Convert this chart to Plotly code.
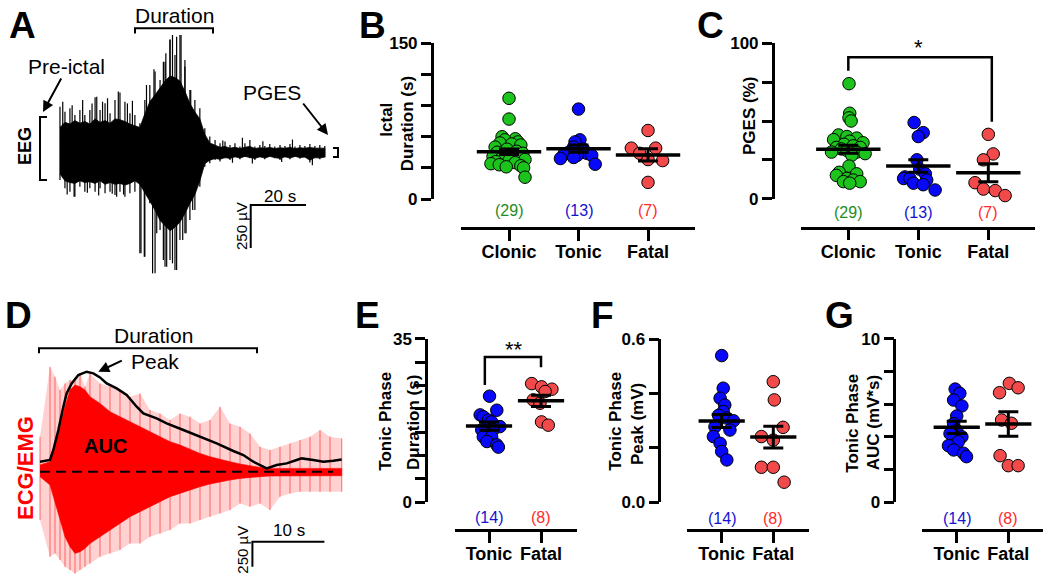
import plotly.graph_objects as go

W, H = 1050, 581
FONT = "Liberation Sans, Arial, Helvetica, sans-serif"

# ---------------- Panel A: EEG (time s, amplitude µV) ----------------
eeg_t = [0, 1.8, 3.6, 5.4, 7.2, 9.0, 10.8, 12.7, 14.5, 16.3,
         18.1, 19.9, 21.7, 23.5, 25.3, 27.1, 28.9, 30.7, 32.5, 34.4,
         36.2, 38.0, 39.8, 41.6, 43.4, 45.2, 47.0, 48.8, 50.6, 52.4,
         54.2, 56.1, 57.9, 59.7, 61.5, 63.3, 65.1, 66.9, 68.7, 70.5,
         72.3, 74.1, 75.9, 77.7, 79.6, 81.4, 83.2, 85.0, 86.8, 88.6,
         90.4, 92.2, 94.0, 95.8]
# outer excursions (spike tips) at each sample
eeg_hi = [271, 242, 262, 223, 252, 223, 252, 326, 252, 291,
          233, 310, 353, 300, 233, 223, 174, 310, 397, 475,
          426, 533, 659, 572, 688, 504, 368, 310, 262, 145,
          97, 78, 58, 68, 48, 58, 39, 58, 78, 39,
          48, 43, 54, 39, 48, 43, 54, 39, 48, 43,
          54, 43, 48, 43]
eeg_lo = [-155, -203, -223, -252, -194, -223, -203, -223, -203, -233,
          -223, -242, -223, -252, -233, -223, -581, -601, -291, -698,
          -446, -659, -620, -678, -504, -465, -388, -329, -194, -78,
          -58, -39, -48, -29, -39, -23, -35, -19, -29, -39,
          -23, -35, -19, -29, -39, -23, -35, -19, -31, -23,
          -54, -29, -35, -23]
# dense (solid-looking) part of the trace
eeg_core_hi = [150, 180, 170, 190, 175, 185, 170, 200, 180, 190,
               175, 200, 195, 185, 170, 160, 150, 230, 300, 340,
               380, 420, 450, 440, 420, 360, 290, 240, 200, 110,
               60, 45, 35, 40, 30, 35, 28, 35, 40, 28,
               32, 30, 34, 28, 32, 30, 34, 28, 32, 30,
               34, 30, 32, 30]
eeg_core_lo = [-120, -160, -170, -175, -160, -170, -165, -175, -160, -180,
               -170, -180, -175, -185, -175, -160, -180, -230, -280, -330,
               -390, -420, -450, -430, -400, -350, -290, -240, -160, -60,
               -40, -30, -35, -25, -30, -20, -28, -18, -25, -30,
               -20, -28, -18, -25, -30, -20, -28, -18, -25, -22,
               -40, -25, -28, -22]
eeg_spike_t = [1.0, 4.4, 8.2, 11.6, 13.3, 15.4, 17.2, 21.1, 24.4, 26.2, 31.3, 34.0, 37.4, 38.3,
               39.8, 40.7, 42.2, 43.8, 45.2, 47.3, 58.9, 66.0, 73.4, 84.1,
               2.6, 5.1, 9.9, 14.0, 18.9, 20.5, 23.0, 29.3, 30.5, 33.5, 35.0, 37.4, 38.6, 40.7,
               42.2, 44.4, 45.6, 48.0, 62.4, 69.6, 80.2, 91.3]
eeg_spike_v = [300, 280, 310, 290, 329, 300, 320, 359, 290, 305, 397, 488, 533, 581,
               663, 688, 678, 688, 543, 368, 75, 90, 70, 80,
               -240, -252, -230, -245, -235, -252, -240, -581, -601, -698, -465, -620, -659, -640,
               -678, -504, -465, -330, -55, -60, -50, -70]
eeg_bar_t0, eeg_bar_v0 = 69.0, -550
eeg_bar_sec, eeg_bar_uv = 20, 250

# ---------------- Panel D: ECG/EMG (time s, amplitude µV) ----------------
emg_t = [0, 1.39, 2.08, 2.78, 3.47, 4.17, 4.86, 5.56, 6.25, 6.94,
         8.33, 9.72, 11.11, 12.50, 13.89, 15.28, 16.67, 18.06, 19.44, 20.83,
         22.22, 23.61, 25.0, 26.39, 27.78, 29.17, 30.56, 31.94, 33.33, 34.72,
         36.11, 37.50, 38.89, 40.28, 41.90]
emg_core_hi = [67, 100, 250, 450, 650, 817, 867, 850, 817, 750,
               683, 600, 550, 500, 450, 400, 350, 300, 267, 223,
               183, 150, 123, 100, 77, 57, 43, 33, 33, 33,
               33, 33, 33, 33, 33]
emg_core_lo = [-50, -133, -317, -483, -650, -750, -817, -800, -767, -717,
               -650, -583, -517, -450, -400, -350, -300, -250, -217, -183,
               -150, -123, -100, -83, -67, -57, -50, -43, -40, -40,
               -40, -40, -40, -40, -40]
emg_spk_hi = [350, 1050, 950, 817, 883, 917, 917, 983, 850, 983,
              883, 850, 817, 750, 783, 617, 583, 517, 583, 550,
              483, 517, 650, 483, 450, 383, 250, 217, 250, 283,
              317, 350, 417, 350, 333]
emg_spk_lo = [-483, -850, -817, -883, -950, -983, -1017, -983, -950, -917,
              -850, -817, -783, -717, -717, -650, -617, -583, -517, -517,
              -483, -450, -417, -383, -317, -350, -317, -383, -250, -217,
              -200, -200, -200, -200, -200]
auc_t = [0, 1.39, 1.85, 2.55, 3.24, 3.70, 4.40, 5.32, 6.48, 7.41,
         8.33, 9.26, 10.65, 12.04, 13.43, 14.35, 16.20, 17.59, 19.91, 22.22,
         24.54, 26.85, 28.24, 29.63, 31.02, 31.48, 32.87, 34.26, 35.65, 36.34,
         37.96, 39.35, 40.74, 41.90]
auc_v = [100, 117, 217, 417, 650, 783, 883, 967, 1000, 983,
         943, 883, 833, 767, 650, 583, 533, 483, 417, 350,
         283, 207, 167, 100, 50, 33, 67, 83, 117, 133,
         117, 100, 110, 123]
emg_dash_end = 40.7
emg_bar_t0, emg_bar_v0 = 29.5, -950
emg_bar_sec, emg_bar_uv = 10, 250

# ---------------- Panel B: Ictal duration (s) ----------------
B_cats = ["Clonic", "Tonic", "Fatal"]
B_clonic = [97, 77, 60, 58, 57, 55, 54, 53, 52, 50, 48, 46, 45, 44, 43, 42, 41, 40, 39, 38,
            37, 36, 35, 34, 33, 32, 31, 30, 21]
B_clonic_jit = [0, 0, -0.10, 0.09, -0.06, 0.13, -0.13, 0.04, 0.17, -0.20, -0.03, 0.11, -0.17, 0.20,
                -0.07, 0.06, -0.23, 0.14, -0.11, 0.23, 0, -0.19, 0.09, -0.26, -0.14, 0.17, -0.04, 0.21, 0.23]
B_tonic = [86.6, 57, 55, 50, 48, 45, 44, 43, 42, 42, 40, 39, 33.5]
B_tonic_jit = [0, 0.02, -0.05, -0.07, 0.07, -0.14, 0.12, -0.21, 0.19, -0.02, -0.07, -0.26, 0.24]
B_fatal = [66, 49, 49, 44, 38, 37, 16]
B_fatal_jit = [0, 0.11, -0.24, -0.12, 0, 0.21, 0]
B_mean = [45.5, 48.5, 42.5]
B_sem = [2.6, 3.5, 6.0]
B_n = ["(29)", "(13)", "(7)"]

# ---------------- Panel C: PGES (%) ----------------
C_cats = ["Clonic", "Tonic", "Fatal"]
C_clonic = [74, 55, 52, 50, 41, 40, 39, 38, 37, 36, 35, 34, 33, 33, 32, 31, 30, 30, 29, 28,
            21, 17, 16, 15, 13, 12, 11, 11, 10]
C_clonic_jit = [0.01, 0.02, 0.01, 0.04, -0.14, -0.02, 0.12, -0.21, 0.02, 0.21, -0.06, 0.07, -0.17, 0.17,
                -0.10, -0.02, 0.12, -0.24, 0.24, 0.05, 0.01, -0.13, 0.12, -0.17, -0.02, 0.07, -0.07, 0.17, 0.02]
C_tonic = [49, 42.5, 40, 25, 19, 16, 14, 13, 13, 12, 10, 9, 5.6]
C_tonic_jit = [-0.06, 0.07, 0, -0.02, 0.02, 0.10, -0.19, -0.21, -0.12, 0.12, -0.07, 0.07, 0.24]
C_fatal = [41.4, 28.8, 25, 10.3, 6.2, 5.2, 2]
C_fatal_jit = [0, 0.07, -0.07, -0.19, -0.07, 0.10, 0.24]
C_mean = [31.8, 21.0, 16.7]
C_sem = [2.6, 4.0, 5.8]
C_n = ["(29)", "(13)", "(7)"]

# ---------------- Panels E-G: tonic phase ----------------
T_cats = ["Tonic", "Fatal"]
E_tonic = [22.7, 19.7, 18.7, 18.3, 17.6, 17.2, 16.2, 15.5, 15.5, 14, 14, 13, 12.3, 11.8]
E_tonic_jit = [0.01, 0.15, -0.17, -0.11, -0.01, 0.05, 0.21, -0.14, 0.08, -0.11, 0.05, -0.04, 0.15, 0.18]
E_fatal = [25.4, 24.7, 24.2, 23.7, 21.9, 21.2, 17.2, 16.5]
E_fatal_jit = [-0.18, 0.01, 0.21, 0.08, -0.15, -0.02, 0.01, 0.14]
E_mean = [16.3, 21.7]
E_sem = [0.9, 1.2]

F_tonic = [0.54, 0.42, 0.383, 0.358, 0.334, 0.32, 0.31, 0.30, 0.278, 0.266, 0.242, 0.217, 0.187, 0.156]
F_tonic_jit = [0, 0.03, -0.03, 0.06, 0.03, -0.06, 0.10, 0.23, -0.13, 0.16, -0.16, -0.03, 0, 0.10]
F_fatal = [0.444, 0.377, 0.276, 0.242, 0.229, 0.129, 0.129, 0.074]
F_fatal_jit = [0, 0.02, 0.19, -0.23, 0, -0.23, 0, 0.21]
F_mean = [0.299, 0.240]
F_sem = [0.024, 0.04]

G_tonic = [6.92, 6.66, 6.25, 5.89, 5.27, 4.8, 4.4, 4.2, 4.0, 3.7, 3.46, 3.2, 3.0, 2.79]
G_tonic_jit = [-0.03, 0.06, -0.06, 0.10, 0, -0.06, 0, -0.13, 0.10, 0.03, -0.16, -0.06, 0.13, 0.19]
G_fatal = [7.27, 7.0, 6.7, 5.03, 4.83, 2.85, 2.24, 2.24]
G_fatal_jit = [0.02, 0.19, -0.17, -0.13, 0.06, -0.16, 0, 0.19]
G_mean = [4.58, 4.79]
G_sem = [0.38, 0.75]
T_n = ["(14)", "(8)"]

GREEN, BLUE, RED = "#1CC31C", "#0808FA", "#F24A4A"
GREEN_T, BLUE_T, RED_T = "#1E8C1E", "#1212D0", "#FF2A2A"


def px(x):
    return x / W


def py(y):
    return 1 - y / H


fig = go.Figure()
annotations = []
shapes = []


def text(t, x, y, size, color="black", bold=False, angle=0, xref="paper", yref="paper"):
    annotations.append(dict(
        text=t, x=px(x) if xref == "paper" else x, y=py(y) if yref == "paper" else y,
        xref=xref, yref=yref, showarrow=False, textangle=angle,
        xanchor="center", yanchor="middle",
        font=dict(family=FONT, size=size, color=color, weight="bold" if bold else "normal")))


def pline(points, width=2):
    d = "M " + " L ".join(f"{px(x):.5f},{py(y):.5f}" for x, y in points)
    shapes.append(dict(type="path", path=d, xref="paper", yref="paper",
                       line=dict(color="black", width=width)))


def vsegments(ts, lows, highs):
    xs, ys = [], []
    for t, lo, hi in zip(ts, lows, highs):
        xs += [t, t, None]
        ys += [lo, hi, None]
    return xs, ys


# ---------- Panel A traces ----------
fig.add_trace(go.Scatter(x=eeg_t + eeg_t[::-1], y=eeg_core_hi + eeg_core_lo[::-1], fill="toself",
                         fillcolor="black", mode="lines", line=dict(color="black", width=0.8),
                         xaxis="x", yaxis="y", hoverinfo="skip"))
sx, sy = vsegments(eeg_t, eeg_lo, eeg_hi)
sx2, sy2 = vsegments(eeg_spike_t, [0] * len(eeg_spike_t), eeg_spike_v)
fig.add_trace(go.Scatter(x=sx + sx2, y=sy + sy2, mode="lines", line=dict(color="black", width=1.2),
                         xaxis="x", yaxis="y", hoverinfo="skip"))
fig.add_trace(go.Scatter(x=[eeg_bar_t0, eeg_bar_t0, eeg_bar_t0 + eeg_bar_sec],
                         y=[eeg_bar_v0, eeg_bar_v0 + eeg_bar_uv, eeg_bar_v0 + eeg_bar_uv],
                         mode="lines", line=dict(color="black", width=2), xaxis="x", yaxis="y"))

# ---------- Panel D traces ----------
fig.add_trace(go.Scatter(x=emg_t + emg_t[::-1], y=emg_spk_hi + emg_spk_lo[::-1], fill="toself",
                         fillcolor="rgba(255,0,0,0.18)", mode="lines",
                         line=dict(color="rgba(255,0,0,0.0)", width=0),
                         xaxis="x4", yaxis="y4", hoverinfo="skip"))
dx, dy = vsegments(emg_t, emg_spk_lo, emg_spk_hi)
fig.add_trace(go.Scatter(x=dx, y=dy, mode="lines", line=dict(color="rgba(255,40,40,0.55)", width=1.2),
                         xaxis="x4", yaxis="y4", hoverinfo="skip"))
fig.add_trace(go.Scatter(x=emg_t + emg_t[::-1], y=emg_core_hi + emg_core_lo[::-1], fill="toself",
                         fillcolor="#FF0000", mode="lines", line=dict(color="#FF0000", width=0.6),
                         xaxis="x4", yaxis="y4", hoverinfo="skip"))
fig.add_trace(go.Scatter(x=[0, emg_dash_end], y=[0, 0], mode="lines",
                         line=dict(color="black", width=2, dash="10px,6px"), xaxis="x4", yaxis="y4"))
fig.add_trace(go.Scatter(x=auc_t, y=auc_v, mode="lines", line=dict(color="black", width=2.5),
                         xaxis="x4", yaxis="y4"))
fig.add_trace(go.Scatter(x=[emg_bar_t0, emg_bar_t0, emg_bar_t0 + emg_bar_sec],
                         y=[emg_bar_v0, emg_bar_v0 + emg_bar_uv, emg_bar_v0 + emg_bar_uv],
                         mode="lines", line=dict(color="black", width=2), xaxis="x4", yaxis="y4"))


# ---------- scatter panels ----------
def dots(n, values, jit, cat, color, size):
    fig.add_trace(go.Scatter(x=[cat + j for j in jit], y=values, mode="markers",
                             marker=dict(size=size, color=color, line=dict(color="black", width=1)),
                             cliponaxis=False, xaxis=f"x{n}", yaxis=f"y{n}"))


def meansem(n, means, sems, length, cap):
    fig.add_trace(go.Scatter(x=list(range(len(means))), y=means, mode="markers",
                             marker=dict(symbol="line-ew", size=length, color="black",
                                         line=dict(color="black", width=3.5)),
                             error_y=dict(type="data", array=sems, visible=True, color="black",
                                          thickness=3, width=cap),
                             cliponaxis=False, xaxis=f"x{n}", yaxis=f"y{n}"))


dots(2, B_clonic, B_clonic_jit, 0, GREEN, 12.5)
dots(2, B_tonic, B_tonic_jit, 1, BLUE, 12.5)
dots(2, B_fatal, B_fatal_jit, 2, RED, 12.5)
meansem(2, B_mean, B_sem, 46, 10)

dots(3, C_clonic, C_clonic_jit, 0, GREEN, 12.5)
dots(3, C_tonic, C_tonic_jit, 1, BLUE, 12.5)
dots(3, C_fatal, C_fatal_jit, 2, RED, 12.5)
meansem(3, C_mean, C_sem, 46, 10)

dots(5, E_tonic, E_tonic_jit, 0, BLUE, 12.5)
dots(5, E_fatal, E_fatal_jit, 1, RED, 12.5)
meansem(5, E_mean, E_sem, 33, 10)

dots(6, F_tonic, F_tonic_jit, 0, BLUE, 12.5)
dots(6, F_fatal, F_fatal_jit, 1, RED, 12.5)
meansem(6, F_mean, F_sem, 33, 10)

dots(7, G_tonic, G_tonic_jit, 0, BLUE, 12.5)
dots(7, G_fatal, G_fatal_jit, 1, RED, 12.5)
meansem(7, G_mean, G_sem, 33, 10)

# ---------- axes ----------
layout = dict(
    template="none",
    width=W, height=H, autosize=False, showlegend=False,
    margin=dict(l=0, r=0, t=0, b=0, pad=0, autoexpand=False),
    paper_bgcolor="white", plot_bgcolor="white",
    font=dict(family=FONT, color="black"),
    xaxis=dict(domain=[0, px(340)], range=[-21.7, 101.3], visible=False, fixedrange=True, automargin=False),
    yaxis=dict(domain=[py(290), 1], range=[-794.8, 891.3], visible=False, fixedrange=True, automargin=False),
    xaxis4=dict(domain=[0, px(345)], range=[-5.556, 42.36], visible=False, anchor="y4",
                fixedrange=True, automargin=False),
    yaxis4=dict(domain=[0, py(290)], range=[-1093, 1817], visible=False, anchor="x4",
                fixedrange=True, automargin=False),
)


def cat_axes(n, cats, xdom, xrange, xaxis_y, ydom, yrange, ypos_x, tickvals, ticktext):
    common = dict(showline=True, linewidth=2.5, linecolor="black", ticks="outside",
                  tickwidth=2.5, tickcolor="black", showgrid=False, zeroline=False,
                  fixedrange=True, automargin=False)
    layout[f"xaxis{n}"] = dict(domain=[px(xdom[0]), px(xdom[1])], anchor="free", position=py(xaxis_y),
                               range=xrange, tickvals=list(range(len(cats))), ticktext=cats,
                               ticklen=11, tickfont=dict(family=FONT, size=18, color="black", weight="bold"),
                               ticklabelstandoff=-4, **common)
    layout[f"yaxis{n}"] = dict(domain=[py(ydom[1]), py(ydom[0])], anchor="free", position=px(ypos_x),
                               range=yrange, tickvals=tickvals, ticktext=ticktext, ticklen=10,
                               tickfont=dict(family=FONT, size=17, color="black", weight="bold"),
                               **common)


cat_axes(2, B_cats, (461, 695), [-0.691, 2.676], 228, (43.3, 199), [0, 150], 431.7,
         [0, 30, 60, 90, 120, 150], ["0", "", "", "", "", "150"])
cat_axes(3, C_cats, (801, 1035), [-0.676, 2.667], 227.7, (43.3, 198.7), [0, 100], 772.7,
         [0, 25, 50, 75, 100], ["0", "", "", "", "100"])
cat_axes(5, T_cats, (455, 577.3), [-0.654, 1.698], 530, (338.7, 502.3), [0, 35], 426,
         [0, 5, 10, 15, 20, 25, 30, 35], ["0", "", "", "", "", "", "", "35"])
cat_axes(6, T_cats, (687, 809), [-0.672, 1.692], 530, (339.3, 502.3), [0, 0.6], 659.3,
         [0, 0.2, 0.4, 0.6], ["0.0", "", "", "0.6"])
cat_axes(7, T_cats, (922.3, 1043), [-0.667, 1.672], 530, (338.7, 502.3), [0, 10], 894.3,
         [0, 2, 4, 6, 8, 10], ["0", "", "", "", "", "10"])

# ---------- significance brackets ----------
shapes.append(dict(type="path", xref="x3", yref="y3", path="M 0,82.4 L 0,91 L 2.05,91 L 2.05,49.5",
                   line=dict(color="black", width=2.5)))
shapes.append(dict(type="path", xref="x5", yref="y5", path="M -0.08,25.1 L -0.08,31.1 L 1.0,31.1 L 1.0,28.9",
                   line=dict(color="black", width=2.5)))
text("*", 918.3, 48, 22)
text("**", 514, 349, 22)

# ---------- counts ----------
for i, (t, c) in enumerate(zip(B_n, [GREEN_T, BLUE_T, RED_T])):
    text(t, i, 210, 16, color=c, xref="x2")
    text(t, i, 212, 16, color=c, xref="x3")
for i, (t, c) in enumerate(zip(T_n, [BLUE_T, RED_T])):
    text(t, i, 517, 16, color=c, xref="x5")
    text(t, i, 518, 16, color=c, xref="x6")
    text(t, i, 518, 16, color=c, xref="x7")

# ---------- axis titles ----------
text("Ictal", 386.7, 120, 17, bold=True, angle=-90)
text("Duration (s)", 408.3, 124, 17, bold=True, angle=-90)
text("PGES (%)", 750, 116, 17, bold=True, angle=-90)
text("Tonic Phase", 386, 421.7, 17, bold=True, angle=-90)
text("Duration (s)", 413, 423, 17, bold=True, angle=-90)
text("Tonic Phase", 616, 421.7, 17, bold=True, angle=-90)
text("Peak (mV)", 637, 424, 17, bold=True, angle=-90)
text("Tonic Phase", 851.7, 423, 17, bold=True, angle=-90)
text("AUC (mV*s)", 873.3, 423, 17, bold=True, angle=-90)

# ---------- panel letters ----------
for letter, x, y in [("A", 22.5, 25), ("B", 372.5, 25), ("C", 710, 26), ("D", 18.5, 315),
                     ("E", 367.5, 315), ("F", 602.5, 315), ("G", 839, 315)]:
    text(letter, x, y, 37, bold=True)

# ---------- panel A decorations ----------
text("Duration", 174, 15, 21)
pline([(135, 33.5), (135, 28.3), (213, 28.3), (213, 33.5)])
text("Pre-ictal", 66, 66, 21)
text("PGES", 272, 92, 21)
text("EEG", 25, 146, 18, bold=True, angle=-90)
pline([(47, 117), (40, 117), (40, 180), (47, 180)])
pline([(333, 148), (338, 148), (338, 157), (333, 157)])
text("20 s", 280, 196, 17)
text("250 µV", 241, 226, 15, angle=-90)
for (x0, y0, x1, y1) in [(43, 112, 62, 77), (328, 135, 302, 102)]:
    annotations.append(dict(x=px(x0), y=py(y0), ax=x1 - x0, ay=y1 - y0, xref="paper", yref="paper",
                            text="", showarrow=True, arrowhead=2, arrowsize=1.1, arrowwidth=2,
                            arrowcolor="black"))

# ---------- panel D decorations ----------
text("Duration", 153.3, 335, 21)
pline([(39, 353.3), (39, 348.3), (257, 348.3), (257, 353.3)])
text("Peak", 155, 361, 21)
annotations.append(dict(x=px(98.3), y=py(371.7), ax=25, ay=-11.7, xref="paper", yref="paper",
                        text="", showarrow=True, arrowhead=2, arrowsize=1.1, arrowwidth=2,
                        arrowcolor="black"))
text("AUC", 105, 446, 20, bold=True)
text("ECG/EMG", 25, 468, 22, color="#FF0000", bold=True, angle=-90)
text("10 s", 289, 530, 17)
text("250 µV", 241.7, 550, 15, angle=-90)

layout["annotations"] = annotations
layout["shapes"] = shapes
fig.update_layout(**layout)
fig.write_html("out.html", config={"displayModeBar": False},
               post_script="document.body.style.margin='0px';")
